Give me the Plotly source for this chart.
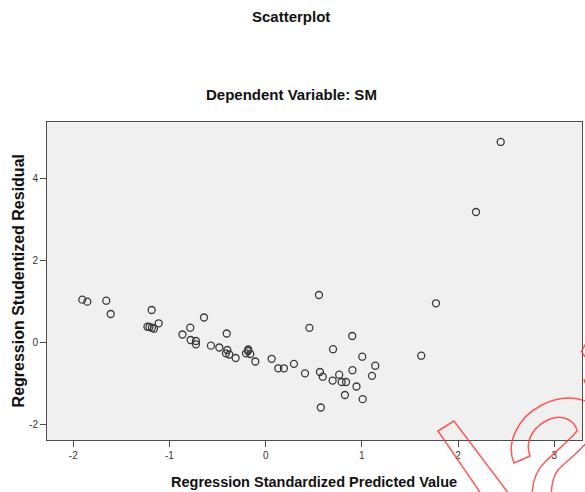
import plotly.graph_objects as go

# Regression Standardized Predicted Value
pred = [-1.906, -1.854, -1.657, -1.611, -1.185, -1.229, -1.208, -1.182, -1.161, -1.112,
        -0.865, -0.784, -0.780, -0.725, -0.725, -0.641, -0.569, -0.482, -0.405, -0.399,
        -0.413, -0.378, -0.312, -0.181, -0.184, -0.205, -0.160, -0.108, 0.062, 0.131,
        0.190, 0.294, 0.409, 0.455, 0.554, 0.564, 0.593, 0.573, 0.700, 0.696,
        0.764, 0.790, 0.835, 0.824, 0.900, 0.902, 0.944, 1.004, 1.008, 1.105,
        1.139, 1.617, 1.770, 2.186, 2.443]
# Regression Studentized Residual
resid = [1.051, 1.002, 1.026, 0.701, 0.799, 0.391, 0.384, 0.366, 0.342, 0.474,
         0.200, 0.366, 0.066, 0.042, -0.039, 0.616, -0.073, -0.117, 0.225, -0.178,
         -0.259, -0.288, -0.374, -0.166, -0.203, -0.259, -0.276, -0.459, -0.393, -0.625,
         -0.625, -0.516, -0.748, 0.364, 1.165, -0.716, -0.831, -1.583, -0.159, -0.924,
         -0.782, -0.960, -0.960, -1.278, 0.164, -0.672, -1.070, -0.342, -1.380, -0.809,
         -0.562, -0.318, 0.963, 3.193, 4.904]

x_ticks = [-2, -1, 0, 1, 2, 3]
y_ticks = [-2, 0, 2, 4]

W, H = 585, 492
L, R, T, B = 47, 582, 122, 440
FONT = "Liberation Sans, Arial, sans-serif"

fig = go.Figure()
fig.add_trace(go.Scatter(
    x=pred, y=resid, mode="markers",
    marker=dict(symbol="circle-open", size=7, color="#3a3a3a", line=dict(width=1.3)),
    hoverinfo="x+y", showlegend=False))

axis_common = dict(showgrid=False, zeroline=False, showline=True, linecolor="#4d4d4d",
                   linewidth=1, mirror=True, ticks="outside", ticklen=6, tickwidth=1,
                   tickcolor="#4d4d4d", tickfont=dict(family=FONT, size=10, color="#333333"))

fig.update_xaxes(range=[-2.273, 3.288], tickvals=x_ticks, ticktext=[str(v) for v in x_ticks],
                 **axis_common)
fig.update_yaxes(range=[-2.377, 5.392], tickvals=y_ticks, ticktext=[str(v) for v in y_ticks],
                 **axis_common)

def px(x, y):
    return (x - L) / (R - L), (B - y) / (B - T)

def path(points_cmds):
    out = []
    for cmd, pts in points_cmds:
        coords = " ".join("%.4f,%.4f" % px(*p) for p in pts)
        out.append(cmd + " " + coords)
    return " ".join(out)

red = dict(color="rgba(255,60,60,0.85)", width=1.5)
shapes = [
    dict(type="path", xref="paper", yref="paper", layer="above", line=red,
         path=path([("M", [(438, 431)]), ("L", [(454, 421)]), ("L", [(512, 498)]),
                    ("L", [(484, 498)]), ("Z", [])])),
    dict(type="path", xref="paper", yref="paper", layer="above", line=red,
         path=path([("M", [(532, 498)]), ("C", [(532, 485), (534, 472), (545, 462)]),
                    ("C", [(555, 452), (570, 440), (577, 431)]),
                    ("C", [(575, 420), (562, 414), (550, 419)]),
                    ("C", [(535, 425), (524, 440), (530, 456)]),
                    ("L", [(514, 463)]),
                    ("C", [(506, 445), (516, 418), (542, 405)]),
                    ("C", [(560, 396), (578, 396), (592, 404)])])),
    dict(type="path", xref="paper", yref="paper", layer="above", line=red,
         path=path([("M", [(592, 436)]), ("C", [(580, 452), (565, 462), (558, 470)]),
                    ("C", [(552, 478), (551, 488), (551, 498)])])),
    dict(type="path", xref="paper", yref="paper", layer="above", line=red,
         path=path([("M", [(586, 343)]), ("L", [(581.5, 351.5)]), ("L", [(586, 358)])])),
    dict(type="path", xref="paper", yref="paper", layer="above", line=red,
         path=path([("M", [(584, 379)]), ("L", [(585, 383)])])),
]

annotations = [
    dict(text="<b>Scatterplot</b>", xref="paper", yref="paper", x=px(291, 0)[0],
         y=px(0, 17)[1], xanchor="center", yanchor="middle", showarrow=False,
         font=dict(family=FONT, size=15, color="#111111")),
    dict(text="<b>Dependent Variable: SM</b>", xref="paper", yref="paper", x=px(291, 0)[0],
         y=px(0, 95)[1], xanchor="center", yanchor="middle", showarrow=False,
         font=dict(family=FONT, size=15, color="#111111")),
    dict(text="<b>Regression Standardized Predicted Value</b>", xref="paper", yref="paper",
         x=px(314.2, 0)[0], y=px(0, 481.7)[1], xanchor="center", yanchor="middle",
         showarrow=False, font=dict(family=FONT, size=14.5, color="#111111")),
    dict(text="<b>Regression Studentized Residual</b>", xref="paper", yref="paper",
         x=px(18.7, 0)[0], y=px(0, 280.7)[1], xanchor="center", yanchor="middle",
         textangle=-90, showarrow=False, font=dict(family=FONT, size=16, color="#111111")),
]

fig.update_layout(
    width=W, height=H, autosize=False,
    margin=dict(l=L, r=W - R, t=T, b=H - B, pad=0),
    paper_bgcolor="white", plot_bgcolor="#f0f0f0",
    shapes=shapes, annotations=annotations, showlegend=False,
)

fig.write_html("out.html", config={"displayModeBar": False},
               post_script="document.body.style.margin='0';document.body.style.overflow='hidden';")
